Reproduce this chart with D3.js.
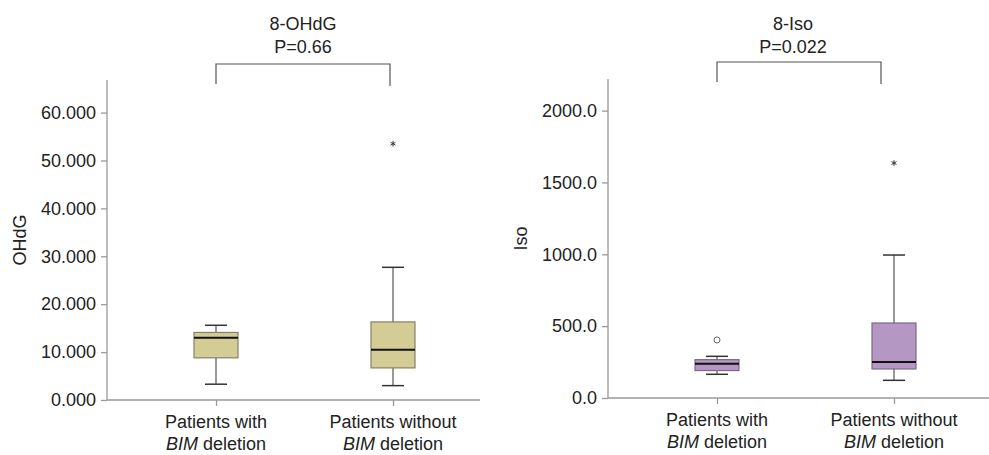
<!DOCTYPE html>
<html>
<head>
<meta charset="utf-8">
<script src="https://cdn.jsdelivr.net/npm/d3@7"></script>
<style>
  body { margin: 0; background: #fff; }
  text { font-family: "Liberation Sans", Arial, Helvetica, sans-serif; fill: #222; }
</style>
</head>
<body>
<div id="chart"></div>
<script>
// groups on the x axis (second line is "BIM deletion", BIM in italics)
var categories = ["Patients with", "Patients without"];

// 8-OHdG box stats: [whisker low, Q1, median, Q3, whisker high]
var ohdgStats = [
  [3.3, 8.8, 13.0, 14.1, 15.6],
  [3.0, 6.7, 10.5, 16.3, 27.7]
];
var ohdgExtremes = [[], [53.5]];   // drawn as stars
var ohdgOutliers = [[], []];       // drawn as circles
var ohdgTicks = [0, 10, 20, 30, 40, 50, 60];

// 8-Iso box stats
var isoStats = [
  [165, 191, 239, 267, 290],
  [123, 202, 250, 522, 995]
];
var isoExtremes = [[], [1635]];
var isoOutliers = [[404], []];
var isoTicks = [0, 500, 1000, 1500, 2000];

var w = 989, h = 455;
var svg = d3.select("#chart").append("svg")
    .attr("width", w)
    .attr("height", h);

var fs = "18px";

// one panel per marker, all positions in here
var panels = [
  { title: "8-OHdG", p: "P=0.66", ylab: "OHdG", stats: ohdgStats, ext: ohdgExtremes, out: ohdgOutliers,
    ticks: ohdgTicks, fmt: d3.format(".3f"), ymax: 66.8,
    left: 107, right: 480, top: 80, bottom: 400, x0: 216, x1: 393,
    fill: "#d3cc94", stroke: "#858066", titleX: 303, brTop: 64, brL: 84, brR: 86, brRx: 390 },
  { title: "8-Iso", p: "P=0.022", ylab: "Iso", stats: isoStats, ext: isoExtremes, out: isoOutliers,
    ticks: isoTicks, fmt: d3.format(".1f"), ymax: 2220,
    left: 608, right: 989, top: 79, bottom: 398, x0: 717, x1: 894,
    fill: "#b497c3", stroke: "#7d6a88", titleX: 793, brTop: 62, brL: 82, brR: 84, brRx: 881 }
];

panels.forEach(function(p) {
  var g = svg.append("g");

  var y = d3.scaleLinear().domain([0, p.ymax]).range([p.bottom, p.top]);
  var x = d3.scalePoint().domain(categories).range([p.x0, p.x1]);

  // y axis
  var yAxis = g.append("g")
      .attr("transform", "translate(" + p.left + ",0)")
      .call(d3.axisLeft(y).tickValues(p.ticks).tickFormat(p.fmt).tickSize(6).tickPadding(5));
  yAxis.select(".domain").attr("d", "M0," + p.top + "V" + p.bottom);

  // x axis
  var xAxis = g.append("g")
      .attr("transform", "translate(0," + p.bottom + ")")
      .call(d3.axisBottom(x).tickSize(6).tickFormat(""));
  xAxis.select(".domain").attr("d", "M" + p.left + ",0H" + p.right);

  g.selectAll(".domain, .tick line").attr("stroke", "#9a9a9a").attr("stroke-width", 1.3);
  yAxis.selectAll(".tick text").style("font-size", fs).attr("fill", "#222");

  // category labels, two lines each
  var lab = g.selectAll(".cat").data(categories).enter().append("text")
      .attr("class", "cat")
      .attr("text-anchor", "middle")
      .attr("x", function(d) { return x(d); })
      .attr("y", p.bottom + 28)
      .style("font-size", fs);
  lab.append("tspan").text(function(d) { return d; });
  var l2 = lab.append("tspan")
      .attr("x", function(d) { return x(d); })
      .attr("dy", 22);
  l2.append("tspan").attr("font-style", "italic").text("BIM");
  l2.append("tspan").text(" deletion");

  // y label
  g.append("text")
      .attr("transform", "translate(" + (p.left - 81) + "," + ((p.top + p.bottom) / 2) + ") rotate(-90)")
      .attr("text-anchor", "middle")
      .style("font-size", fs)
      .text(p.ylab);

  // title + p value
  g.append("text").attr("x", p.titleX).attr("y", 30).attr("text-anchor", "middle")
      .style("font-size", fs).text(p.title);
  g.append("text").attr("x", p.titleX).attr("y", 53).attr("text-anchor", "middle")
      .style("font-size", fs).text(p.p);

  // significance bracket
  g.append("path")
      .attr("d", "M" + x(categories[0]) + "," + p.brL + "V" + p.brTop + "H" + p.brRx + "V" + p.brR)
      .attr("fill", "none")
      .attr("stroke", "#555")
      .attr("stroke-width", 1.2);

  var bw = 44, cw = 22;

  var box = g.selectAll(".box").data(p.stats).enter().append("g")
      .attr("transform", function(d, i) { return "translate(" + x(categories[i]) + ",0)"; });

  // whiskers
  box.append("line")
      .attr("y1", function(d) { return y(d[0]); })
      .attr("y2", function(d) { return y(d[1]); })
      .attr("stroke", "#555").attr("stroke-width", 1.2);
  box.append("line")
      .attr("y1", function(d) { return y(d[3]); })
      .attr("y2", function(d) { return y(d[4]); })
      .attr("stroke", "#555").attr("stroke-width", 1.2);
  [0, 4].forEach(function(k) {
    box.append("line")
        .attr("x1", -cw / 2).attr("x2", cw / 2)
        .attr("y1", function(d) { return y(d[k]); })
        .attr("y2", function(d) { return y(d[k]); })
        .attr("stroke", "#333").attr("stroke-width", 1.5);
  });

  box.append("rect")
      .attr("x", -bw / 2)
      .attr("width", bw)
      .attr("y", function(d) { return y(d[3]); })
      .attr("height", function(d) { return y(d[1]) - y(d[3]); })
      .attr("fill", p.fill)
      .attr("stroke", p.stroke)
      .attr("stroke-width", 1.2);

  box.append("line")
      .attr("x1", -bw / 2).attr("x2", bw / 2)
      .attr("y1", function(d) { return y(d[2]); })
      .attr("y2", function(d) { return y(d[2]); })
      .attr("stroke", "#111").attr("stroke-width", 2);

  // extremes (stars) and outliers (circles)
  p.ext.forEach(function(vals, i) {
    g.selectAll(null).data(vals).enter().append("path")
        .attr("d", d3.symbol(d3.symbolAsterisk, 22))
        .attr("transform", function(v) { return "translate(" + x(categories[i]) + "," + y(v) + ")"; })
        .attr("fill", "none")
        .attr("stroke", "#333").attr("stroke-width", 1);
  });
  p.out.forEach(function(vals, i) {
    g.selectAll(null).data(vals).enter().append("circle")
        .attr("cx", x(categories[i]))
        .attr("cy", function(v) { return y(v); })
        .attr("r", 3)
        .attr("fill", "none")
        .attr("stroke", "#666").attr("stroke-width", 1);
  });
});
</script>
</body>
</html>
